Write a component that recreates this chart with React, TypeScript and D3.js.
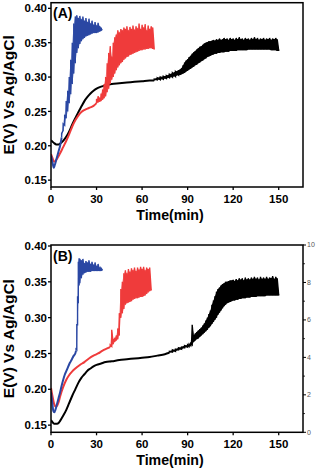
import React from "react";
import * as d3 from "d3";

type P = [number, number];
type B = [number, number, number];

const xTicks = [0, 30, 60, 90, 120, 150];
const yTicks = [0.15, 0.2, 0.25, 0.3, 0.35, 0.4];
const rightTicks = [0, 2, 4, 6, 8, 10];
const rightMinor = [1, 3, 5, 7, 9];

// ---------- Panel A ----------
const blackA_smooth: P[] = [[0,.208],[1,.206],[2,.204],[3.5,.202],[5,.202],[6,.203],[8,.207],[10,.213],[12,.221],[14,.231],[16,.240],[18,.249],[20,.257],[22,.265],[24,.271],[26,.276],[28,.280],[30,.283],[33,.286],[36,.288],[40,.290],[45,.291],[50,.292],[55,.293],[60,.294],[65,.295],[68,.295]];
const blackA_band: B[] = [[68,.295,.297],[70,.296,.299],[72,.296,.300],[74,.297,.301],[76,.298,.302],[78,.299,.304],[80,.300,.306],[82,.301,.308],[84,.303,.310],[85,.303,.311],[86,.304,.313],[87,.305,.317],[88,.306,.321],[89,.308,.324],[90,.309,.326],[91,.311,.329],[92,.312,.331],[93,.314,.334],[94,.315,.336],[95,.317,.338],[96,.318,.340],[97,.320,.342],[98,.321,.344],[99,.323,.345],[100,.324,.347],[101,.326,.349],[102,.327,.350],[103,.329,.351],[104,.330,.352],[105,.331,.352],[106,.332,.353],[107,.333,.354],[108,.334,.353],[109,.334,.355],[110,.335,.354],[111,.335,.356],[112,.336,.354],[113,.336,.355],[114,.336,.357],[115,.337,.355],[116,.337,.356],[117,.337,.354],[118,.338,.357],[119,.338,.355],[120,.338,.356],[121,.338,.354],[122,.338,.357],[123,.339,.355],[124,.339,.358],[125,.339,.355],[126,.339,.356],[127,.339,.354],[128,.339,.357],[129,.339,.355],[130,.340,.356],[131,.340,.354],[132,.340,.357],[133,.340,.355],[134,.340,.358],[135,.340,.355],[136,.340,.357],[137,.340,.354],[138,.340,.356],[139,.340,.355],[140,.340,.357],[141,.340,.354],[142,.340,.356],[143,.340,.355],[144,.340,.357],[145,.339,.354],[146,.339,.356],[147,.339,.355],[148,.339,.357],[149,.338,.355],[150,.338,.340]];

const redA_smooth: P[] = [[0,.188],[1,.182],[2,.177],[3,.178],[4,.181],[5,.185],[6,.189],[8,.198],[10,.207],[12,.217],[14,.228],[16,.237],[18,.244],[20,.249],[22,.252],[25,.255],[28,.258],[30,.262]];
const redA_band: B[] = [[30,.262,.268],[31,.263,.272],[32,.264,.270],[33,.265,.276],[34,.267,.282],[35,.269,.290],[36,.272,.300],[37,.278,.320],[38,.283,.335],[39,.290,.345],[40,.296,.330],[41,.300,.350],[42,.305,.358],[43,.310,.362],[44,.314,.368],[45,.317,.365],[46,.320,.370],[47,.322,.368],[48,.325,.372],[49,.327,.370],[50,.329,.374],[51,.330,.368],[52,.332,.373],[53,.333,.370],[54,.334,.375],[55,.335,.369],[56,.336,.374],[57,.337,.371],[58,.338,.378],[59,.339,.370],[60,.339,.376],[61,.340,.372],[62,.340,.377],[63,.341,.368],[64,.341,.375],[65,.342,.370],[66,.342,.374],[67,.341,.372],[68,.340,.341]];

const blueA_smooth: P[] = [[0,.186],[1,.176],[1.8,.168],[2.5,.172],[3.5,.180],[5,.192],[6,.200],[7,.212]];
const blueA_band: B[] = [[7,.212,.218],[8,.222,.232],[9,.230,.245],[10,.240,.265],[11,.250,.280],[12,.262,.300],[13,.275,.325],[14,.290,.350],[15,.305,.378],[16,.320,.388],[17,.335,.390],[18,.342,.386],[19,.348,.389],[20,.352,.384],[21,.355,.388],[22,.357,.382],[23,.359,.386],[24,.360,.380],[25,.361,.385],[26,.362,.378],[27,.363,.382],[28,.364,.376],[29,.364,.380],[30,.364,.375],[31,.365,.379],[32,.366,.374],[33,.367,.372],[33.5,.368,.370]];

// ---------- Panel B ----------
const blackB_smooth: P[] = [[0,.157],[1,.154],[2,.152],[3,.152],[4,.152],[5,.153],[6,.156],[8,.163],[10,.171],[12,.181],[14,.191],[16,.200],[18,.209],[20,.216],[22,.221],[24,.226],[26,.229],[28,.232],[30,.234],[33,.236],[36,.238],[40,.239],[45,.241],[50,.242],[55,.243],[60,.244],[65,.245],[70,.247],[75,.249],[78,.251]];
const blackB_band: B[] = [[78,.251,.253],[80,.252,.255],[82,.253,.256],[84,.255,.258],[86,.256,.259],[88,.258,.261],[90,.259,.262],[91,.260,.263],[92,.261,.264],[93,.262,.290],[94,.266,.275],[95,.268,.278],[96,.270,.280],[97,.271,.282],[98,.273,.284],[99,.275,.286],[100,.277,.289],[101,.279,.292],[102,.281,.296],[103,.283,.300],[104,.286,.305],[105,.288,.310],[106,.291,.318],[107,.294,.324],[108,.297,.330],[109,.300,.336],[110,.304,.340],[111,.307,.342],[112,.310,.345],[113,.313,.347],[114,.316,.348],[115,.318,.350],[116,.320,.350],[117,.321,.351],[118,.322,.352],[119,.323,.352],[120,.324,.353],[121,.324,.351],[122,.325,.354],[123,.325,.352],[124,.326,.355],[125,.326,.353],[126,.327,.355],[127,.327,.352],[128,.327,.356],[129,.328,.353],[130,.328,.355],[131,.328,.353],[132,.329,.356],[133,.329,.354],[134,.329,.357],[135,.329,.354],[136,.330,.356],[137,.330,.353],[138,.330,.357],[139,.330,.354],[140,.330,.356],[141,.330,.354],[142,.331,.357],[143,.331,.354],[144,.331,.356],[145,.331,.355],[146,.331,.358],[147,.331,.354],[148,.331,.357],[149,.331,.355],[150,.331,.333]];

const redB_smooth: P[] = [[0,.202],[1,.190],[2,.180],[3,.176],[4,.177],[5,.182],[6,.190],[8,.203],[10,.213],[12,.220],[14,.225],[16,.229],[19,.234],[22,.238],[25,.243],[28,.247],[31,.250],[34,.254],[37,.257],[39,.259]];
const redB_band: B[] = [[39,.259,.262],[40,.260,.283],[41,.263,.270],[42,.266,.272],[43,.268,.275],[44,.270,.285],[45,.275,.306],[46,.300,.340],[47,.306,.350],[48,.312,.362],[49,.318,.366],[50,.320,.362],[51,.321,.368],[52,.322,.364],[53,.323,.369],[54,.325,.366],[55,.326,.370],[56,.327,.365],[57,.327,.370],[58,.328,.367],[59,.329,.371],[60,.329,.368],[61,.330,.371],[62,.331,.366],[63,.333,.370],[64,.335,.368],[65,.337,.370],[66,.338,.340]];

const blueB_smooth: P[] = [[0,.196],[0.8,.182],[1.5,.170],[2.2,.168],[3,.172],[4,.180],[5,.188],[6,.196],[7,.205],[8,.213],[9,.220],[10,.225],[11,.230],[12,.235],[13,.239],[14,.243],[15,.247],[16,.250],[16.5,.254]];
const blueB_band: B[] = [[16.5,.254,.256],[17,.255,.290],[17.5,.290,.330],[18,.320,.378],[18.5,.345,.383],[19,.348,.382],[20,.355,.380],[21,.360,.382],[22,.362,.376],[23,.363,.379],[24,.364,.377],[25,.364,.380],[26,.364,.375],[27,.365,.378],[28,.365,.374],[29,.365,.377],[30,.365,.372],[31,.365,.375],[32,.365,.370],[33,.365,.369],[34,.366,.366]];

const BLUE = "#2a47a3";
const RED = "#ef3b3b";
const BLACK = "#000000";
const FONT = "'Liberation Sans', Arial, sans-serif";

interface SeriesDef { smooth: P[]; band: B[]; color: string; fillOpacity: number; }

interface PanelProps {
  label: string;
  top: number;
  bottom: number;
  yDomainTop: number;
  series: SeriesDef[];
  rightAxis: boolean;
}

const X0 = 51, X1 = 303;

function Panel({ label, top, bottom, yDomainTop, series, rightAxis }: PanelProps) {
  const x = d3.scaleLinear().domain([0, 166]).range([X0, X1]);
  const y = d3.scaleLinear().domain([0.14, yDomainTop]).range([bottom, top]);
  const yr = d3.scaleLinear().domain([0, 10]).range([bottom, top]);
  const smoothLine = d3.line<P>().x(d => x(d[0])).y(d => y(d[1])).curve(d3.curveMonotoneX);
  const bandLine = d3.line<P>().x(d => x(d[0])).y(d => y(d[1]));
  const bandArea = d3.area<B>().x(d => x(d[0])).y0(d => y(d[1])).y1(d => y(d[2]));
  const bandPts = (b: B[]): P[] => b.flatMap(([t, lo, hi]) => [[t, lo] as P, [t, hi] as P]);
  const clipId = "clip" + label;
  return (
    <g>
      <defs>
        <clipPath id={clipId}>
          <rect x={X0} y={top} width={X1 - X0} height={bottom - top} />
        </clipPath>
      </defs>
      <g clipPath={`url(#${clipId})`}>
        {series.map((s, i) => (
          <g key={i}>
            <path d={smoothLine(s.smooth) || ""} fill="none" stroke={s.color} strokeWidth={2} strokeLinejoin="round" />
            <path d={bandArea(s.band) || ""} fill={s.color} fillOpacity={s.fillOpacity} stroke="none" />
            <path d={bandLine(bandPts(s.band)) || ""} fill="none" stroke={s.color} strokeWidth={1.4} strokeLinejoin="miter" />
          </g>
        ))}
      </g>
      <rect x={X0} y={top} width={X1 - X0} height={bottom - top} fill="none" stroke="#000" strokeWidth={1.5} />
      {yTicks.map(v => (
        <g key={v}>
          <line x1={X0 - 3} x2={X0} y1={y(v)} y2={y(v)} stroke="#000" strokeWidth={1.3} />
          <text x={X0 - 4} y={y(v)} dy="0.36em" textAnchor="end" fontFamily={FONT} fontWeight="bold" fontSize={11.5} fill="#000">{v.toFixed(2)}</text>
        </g>
      ))}
      {xTicks.map(v => (
        <g key={v}>
          <line x1={x(v)} x2={x(v)} y1={bottom} y2={bottom + 3} stroke="#000" strokeWidth={1.3} />
          <text x={x(v)} y={bottom + 16} textAnchor="middle" fontFamily={FONT} fontWeight="bold" fontSize={11.5} fill="#000">{v}</text>
        </g>
      ))}
      {rightAxis && (
        <g>
          {rightTicks.map(v => (
            <g key={v}>
              <line x1={X1} x2={X1 + 3} y1={yr(v)} y2={yr(v)} stroke="#000" strokeWidth={1} />
              <text x={X1 + 4} y={yr(v)} dy="0.35em" fontFamily={FONT} fontSize={7} fill="#555">{v}</text>
            </g>
          ))}
          {rightMinor.map(v => (
            <line key={v} x1={X1} x2={X1 + 2} y1={yr(v)} y2={yr(v)} stroke="#000" strokeWidth={0.8} />
          ))}
        </g>
      )}
      <text x={53} y={top + 15.5} fontFamily={FONT} fontWeight="bold" fontSize={14} fill="#000">({label})</text>
      <text x={170} y={bottom + 32.5} textAnchor="middle" fontFamily={FONT} fontWeight="bold" fontSize={14.2} fill="#000">Time(min)</text>
      <text transform={`translate(14,${(top + bottom) / 2}) rotate(-90)`} textAnchor="middle" fontFamily={FONT} fontWeight="bold" fontSize={15.5} fill="#000">E(V) Vs Ag/AgCl</text>
    </g>
  );
}

export default function App() {
  return (
    <svg width={316} height={469} style={{ position: "absolute", left: 0, top: 0, background: "#fff" }}>
      <rect width={316} height={469} fill="#fff" />
      <Panel
        label="A"
        top={2.7}
        bottom={187}
        yDomainTop={0.4082}
        rightAxis={false}
        series={[
          { smooth: blackA_smooth, band: blackA_band, color: BLACK, fillOpacity: 1 },
          { smooth: redA_smooth, band: redA_band, color: RED, fillOpacity: 0.55 },
          { smooth: blueA_smooth, band: blueA_band, color: BLUE, fillOpacity: 0.55 },
        ]}
      />
      <Panel
        label="B"
        top={245}
        bottom={432.3}
        yDomainTop={0.4014}
        rightAxis={true}
        series={[
          { smooth: blackB_smooth, band: blackB_band, color: BLACK, fillOpacity: 1 },
          { smooth: redB_smooth, band: redB_band, color: RED, fillOpacity: 0.55 },
          { smooth: blueB_smooth, band: blueB_band, color: BLUE, fillOpacity: 0.55 },
        ]}
      />
    </svg>
  );
}
